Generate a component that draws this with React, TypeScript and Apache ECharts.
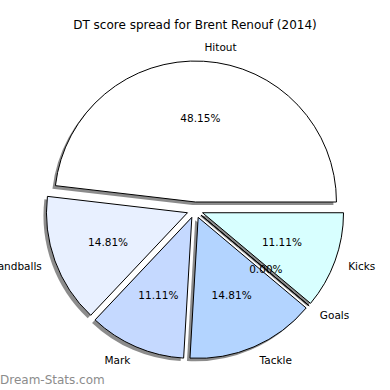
import React, { useEffect, useRef } from "react";
import * as echarts from "echarts";

const titleText = "DT score spread for Brent Renouf (2014)";
const watermark = "Dream-Stats.com";
const categories = ["Hitout", "Handballs", "Mark", "Tackle", "Goals", "Kicks"];
const scores = [13, 4, 3, 4, 0, 3];
const palette = ["#ffffff", "#e8f0ff", "#c5d9ff", "#b3d4ff", "#c0e0ff", "#d8ffff"];

const FONT = "DejaVu Sans";
const CX = 195;
const CY = 210;
const R = 141;
const OFFSET = 8;

export default function App() {
  const ref = useRef<HTMLDivElement>(null);
  useEffect(() => {
    if (!ref.current) return;
    const chart = echarts.init(ref.current, null, { renderer: "svg" });
    const total = scores.reduce((a, b) => a + b, 0);
    const mk = (withColor: boolean) =>
      categories.map((name, i) => ({
        name,
        value: scores[i],
        selected: true,
        itemStyle: withColor ? { color: palette[i] } : undefined,
      }));
    const common = {
      type: "pie",
      clockwise: false,
      startAngle: 0,
      selectedMode: "multiple",
      selectedOffset: OFFSET,
      avoidLabelOverlap: false,
      silent: true,
      animation: false,
      emphasis: { disabled: true },
      minAngle: 0,
    };
    chart.setOption({
      animation: false,
      backgroundColor: "#ffffff",
      graphic: [
        {
          type: "text",
          style: {
            text: titleText,
            x: 195,
            y: 25,
            align: "center",
            verticalAlign: "middle",
            font: `12px "${FONT}"`,
            fill: "#000",
          },
        },
        {
          type: "text",
          style: {
            text: watermark,
            x: 0,
            y: 380,
            align: "left",
            verticalAlign: "middle",
            font: `12px "${FONT}"`,
            fill: "#8c8c8c",
          },
        },
      ],
      series: [
        {
          ...common,
          z: 1,
          center: [CX - 3, CY + 3],
          radius: R,
          data: mk(false),
          itemStyle: { color: "rgba(0,0,0,0.45)", borderWidth: 0 },
          label: { show: false },
          labelLine: { show: false },
        },
        {
          ...common,
          z: 2,
          center: [CX, CY],
          radius: R,
          data: mk(true),
          itemStyle: { borderColor: "#000", borderWidth: 1 },
          label: {
            show: true,
            position: "outside",
            formatter: "{b}",
            fontFamily: FONT,
            fontSize: 10.5,
            color: "#000",
            distanceToLabelLine: 0,
          },
          labelLine: { show: false, length: 14, length2: 0 },
        },
        {
          ...common,
          z: 3,
          center: [CX, CY],
          radius: 163,
          data: mk(false),
          itemStyle: { color: "rgba(0,0,0,0)", borderWidth: 0 },
          label: {
            show: true,
            position: "inside",
            formatter: (p: any) => ((p.value / total) * 100).toFixed(2) + "%",
            fontFamily: FONT,
            fontSize: 10.5,
            color: "#000",
          },
          labelLine: { show: false },
        },
      ],
    });
    return () => chart.dispose();
  }, []);
  return (
    <div
      ref={ref}
      style={{ position: "absolute", left: 0, top: 0, width: 390, height: 390 }}
    />
  );
}
